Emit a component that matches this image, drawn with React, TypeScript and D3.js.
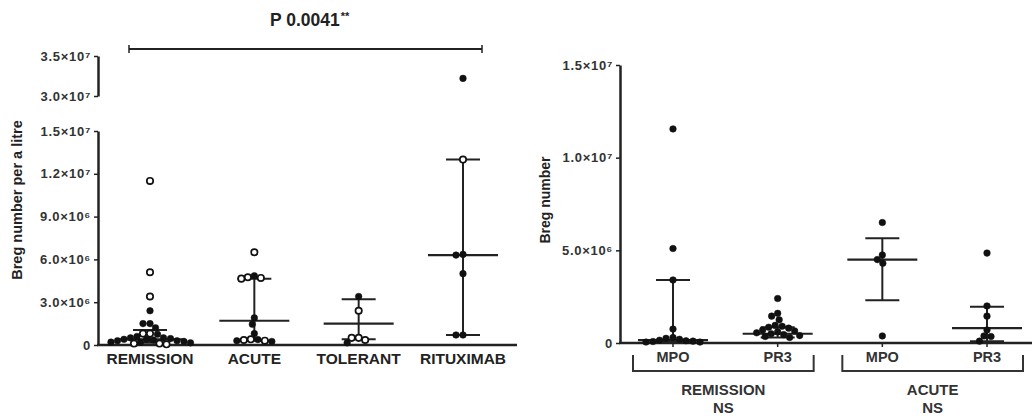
import React, { useEffect, useRef } from 'react';
import * as d3 from 'd3';

// values are Breg counts in units of 10^6
const leftCategories = ['REMISSION', 'ACUTE', 'TOLERANT', 'RITUXIMAB'];
const remissionOpen = [11.5, 5.1, 3.4, 0.8, 0.8, 0.1, 0.1, 0.05];
const remissionFilled = [2.4, 1.5, 1.5, 1.2, 0.75, 0.6, 0.5, 0.5, 0.45, 0.4, 0.4, 0.35, 0.3, 0.3, 0.25, 0.2, 0.2, 0.15];
const acuteOpen = [6.5, 4.75, 4.7, 4.65, 0.4, 0.35, 0.3];
const acuteFilled = [4.85, 1.9, 1.45, 0.8, 0.38, 0.3, 0.25];
const tolerantOpen = [2.4, 0.5, 0.5, 0.35];
const tolerantFilled = [3.4, 0.15];
const rituximabOpen = [13.0];
const rituximabFilled = [32.2, 6.35, 6.3, 5.0, 0.7, 0.7];
// median, lower and upper bar for each category
const leftMedian = [0.4, 1.7, 1.5, 6.3];
const leftLow = [0.15, 0.3, 0.4, 0.7];
const leftHigh = [1.05, 4.65, 3.2, 13.0];

const leftTicks = [0, 3, 6, 9, 12, 15];
const leftTickLabels = ['0', '3.0×10⁶', '6.0×10⁶', '9.0×10⁶', '1.2×10⁷', '1.5×10⁷'];
const upperTicks = [30, 35];
const upperTickLabels = ['3.0×10⁷', '3.5×10⁷'];

const rightCategories = ['MPO', 'PR3', 'MPO ', 'PR3 '];
const remissionMPO = [11.55, 5.1, 3.4, 0.75, 0.3, 0.25, 0.2, 0.15, 0.12, 0.1, 0.08, 0.05, 0.05];
const remissionPR3 = [2.4, 1.6, 1.45, 1.25, 0.95, 0.9, 0.85, 0.8, 0.7, 0.65, 0.6, 0.55, 0.5, 0.45, 0.4, 0.35, 0.3];
const acuteMPO = [6.5, 4.75, 4.5, 4.3, 0.38];
const acutePR3 = [4.85, 2.0, 1.45, 0.7, 0.38, 0.35, 0.1];
const rightMedian = [0.15, 0.5, 4.5, 0.8];
const rightLow = [0.05, 0.3, 2.3, 0.1];
const rightHigh = [3.4, 0.85, 5.65, 1.95];
const rightTicks = [0, 5, 10, 15];
const rightTickLabels = ['0', '5.0×10⁶', '1.0×10⁷', '1.5×10⁷'];
const groupLabels = ['REMISSION', 'ACUTE'];

const FONT = 'Liberation Sans, Arial, sans-serif';

function swarm(points: { v: number; open: boolean }[], yOf: (v: number) => number, d: number) {
  const sorted = [...points].sort((a, b) => b.v - a.v);
  const placed: { v: number; open: boolean; y: number; dx: number }[] = [];
  for (const p of sorted) {
    const y = yOf(p.v);
    let dx = 0;
    for (let k = 0; k < 600; k++) {
      const cand = (k % 2 === 0 ? 1 : -1) * Math.ceil(k / 2) * 0.5;
      if (placed.every(q => Math.hypot(q.dx - cand, q.y - y) >= d)) { dx = cand; break; }
    }
    placed.push({ ...p, y, dx });
  }
  return placed;
}

export default function App() {
  const ref = useRef<SVGSVGElement>(null);

  useEffect(() => {
    const svg = d3.select(ref.current);
    svg.selectAll('*').remove();

    const styleAxis = (g: any, labels: string[]) => {
      g.select('.domain').attr('stroke', '#222').attr('stroke-width', 2.5);
      g.selectAll('.tick line').attr('stroke', '#222').attr('stroke-width', 1.5);
      g.selectAll('.tick text')
        .attr('font-family', FONT).attr('font-size', 13).attr('font-weight', 'bold')
        .attr('letter-spacing', 0.7).attr('fill', '#333')
        .text((_: any, i: number) => labels[i]);
    };

    const drawGroups = (x: d3.ScalePoint<string>, yOf: (v: number) => number, cats: string[],
      groups: { v: number; open: boolean }[][], med: number[], lo: number[], hi: number[]) => {
      const g = svg.append('g');
      cats.forEach((c, i) => {
        const cx = x(c)!;
        g.append('line').attr('x1', cx).attr('x2', cx).attr('y1', yOf(lo[i])).attr('y2', yOf(hi[i]))
          .attr('stroke', '#222').attr('stroke-width', 2);
        [lo[i], hi[i]].forEach(v => {
          g.append('line').attr('x1', cx - 17).attr('x2', cx + 17).attr('y1', yOf(v)).attr('y2', yOf(v))
            .attr('stroke', '#222').attr('stroke-width', 2);
        });
        g.append('line').attr('x1', cx - 35).attr('x2', cx + 35).attr('y1', yOf(med[i])).attr('y2', yOf(med[i]))
          .attr('stroke', '#222').attr('stroke-width', 2.2);
        const pts = swarm(groups[i], yOf, 6.6);
        g.selectAll(null).data(pts).enter().append('circle')
          .attr('cx', d => cx + d.dx).attr('cy', d => d.y)
          .attr('r', d => (d.open ? 3.2 : 3.3))
          .attr('fill', d => (d.open ? '#fff' : '#111'))
          .attr('stroke', '#111').attr('stroke-width', d => (d.open ? 1.7 : 0.5));
      });
    };

    // ---------- left panel ----------
    const yLow = d3.scaleLinear().domain([0, 15]).range([345, 131]);
    const yHigh = d3.scaleLinear().domain([30, 35]).range([96, 56]);
    const yLeft = (v: number) => (v > 20 ? yHigh(v) : yLow(v));
    const xLeft = d3.scalePoint<string>().domain(leftCategories).range([150, 463]);

    const ax1 = svg.append('g').attr('transform', 'translate(98,0)')
      .call(d3.axisLeft(yLow).tickValues(leftTicks).tickSize(4).tickSizeOuter(0));
    styleAxis(ax1, leftTickLabels);
    const ax2 = svg.append('g').attr('transform', 'translate(98,0)')
      .call(d3.axisLeft(yHigh).tickValues(upperTicks).tickSize(4).tickSizeOuter(0));
    styleAxis(ax2, upperTickLabels);

    svg.append('line').attr('x1', 97).attr('x2', 517).attr('y1', 345).attr('y2', 345)
      .attr('stroke', '#222').attr('stroke-width', 2.5);
    svg.selectAll(null).data(leftCategories).enter().append('text')
      .attr('x', d => xLeft(d)!).attr('y', 364).attr('text-anchor', 'middle')
      .attr('font-family', FONT).attr('font-size', 15.5).attr('font-weight', 'bold').attr('fill', '#222')
      .text(d => d);

    svg.append('text').attr('transform', 'translate(22,200) rotate(-90)').attr('text-anchor', 'middle')
      .attr('font-family', FONT).attr('font-size', 14.5).attr('font-weight', 'bold').attr('fill', '#222')
      .text('Breg number per a litre');

    // significance bracket
    const bx1 = xLeft('REMISSION')! - 21, bx2 = xLeft('RITUXIMAB')! + 19;
    svg.append('line').attr('x1', bx1).attr('x2', bx2).attr('y1', 49).attr('y2', 49)
      .attr('stroke', '#222').attr('stroke-width', 2);
    [bx1, bx2].forEach(bx => svg.append('line').attr('x1', bx).attr('x2', bx).attr('y1', 45).attr('y2', 53)
      .attr('stroke', '#222').attr('stroke-width', 1.5));
    const pt = svg.append('text').attr('x', 270).attr('y', 26)
      .attr('font-family', FONT).attr('font-size', 17.5).attr('font-weight', 'bold').attr('fill', '#222');
    pt.append('tspan').text('P 0.0041');
    pt.append('tspan').attr('font-size', 11).attr('dy', -6).attr('dx', 1).text('**');

    const leftGroups = [
      [...remissionOpen.map(v => ({ v, open: true })), ...remissionFilled.map(v => ({ v, open: false }))],
      [...acuteOpen.map(v => ({ v, open: true })), ...acuteFilled.map(v => ({ v, open: false }))],
      [...tolerantOpen.map(v => ({ v, open: true })), ...tolerantFilled.map(v => ({ v, open: false }))],
      [...rituximabOpen.map(v => ({ v, open: true })), ...rituximabFilled.map(v => ({ v, open: false }))],
    ];
    drawGroups(xLeft, yLeft, leftCategories, leftGroups, leftMedian, leftLow, leftHigh);

    // ---------- right panel ----------
    const yRight = d3.scaleLinear().domain([0, 15]).range([343, 65]);
    const xRight = d3.scalePoint<string>().domain(rightCategories).range([673, 987]);
    const ax3 = svg.append('g').attr('transform', 'translate(620,0)')
      .call(d3.axisLeft(yRight).tickValues(rightTicks).tickSize(4).tickSizeOuter(0));
    styleAxis(ax3, rightTickLabels);
    svg.append('line').attr('x1', 619).attr('x2', 1032).attr('y1', 343).attr('y2', 343)
      .attr('stroke', '#222').attr('stroke-width', 2.5);
    rightCategories.forEach(c => svg.append('line').attr('x1', xRight(c)!).attr('x2', xRight(c)!)
      .attr('y1', 343).attr('y2', 347).attr('stroke', '#222').attr('stroke-width', 1.5));
    svg.selectAll(null).data(rightCategories).enter().append('text')
      .attr('x', d => xRight(d)!).attr('y', 362).attr('text-anchor', 'middle')
      .attr('font-family', FONT).attr('font-size', 14.5).attr('font-weight', 'bold').attr('fill', '#333')
      .text(d => d.trim());

    svg.append('text').attr('transform', 'translate(550,200) rotate(-90)').attr('text-anchor', 'middle')
      .attr('font-family', FONT).attr('font-size', 14).attr('font-weight', 'bold').attr('fill', '#222')
      .text('Breg number');

    groupLabels.forEach((lab, i) => {
      const a = xRight(rightCategories[i * 2])! - 40, b = xRight(rightCategories[i * 2 + 1])! + 36;
      svg.append('path').attr('d', `M${a},355V371H${b}V355`).attr('fill', 'none')
        .attr('stroke', '#333').attr('stroke-width', 2);
      const cx = (a + b) / 2;
      svg.append('text').attr('x', cx).attr('y', 395).attr('text-anchor', 'middle')
        .attr('font-family', FONT).attr('font-size', 15).attr('font-weight', 'bold').attr('fill', '#333').text(lab);
      svg.append('text').attr('x', cx).attr('y', 413).attr('text-anchor', 'middle')
        .attr('font-family', FONT).attr('font-size', 15).attr('font-weight', 'bold').attr('fill', '#333').text('NS');
    });

    const rightGroups = [
      remissionMPO.map(v => ({ v, open: false })),
      remissionPR3.map(v => ({ v, open: false })),
      acuteMPO.map(v => ({ v, open: false })),
      acutePR3.map(v => ({ v, open: false })),
    ];
    drawGroups(xRight, yRight, rightCategories, rightGroups, rightMedian, rightLow, rightHigh);
  }, []);

  return (
    <div style={{ position: 'absolute', left: 0, top: 0 }}>
      <svg ref={ref} width={1032} height={416} style={{ display: 'block', background: '#fff' }} />
    </div>
  );
}
